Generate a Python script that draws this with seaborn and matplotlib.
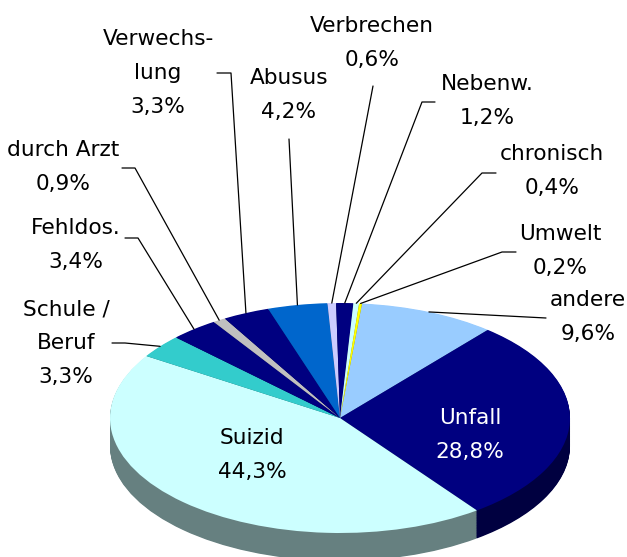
import numpy as np
import matplotlib
matplotlib.use("Agg")
import matplotlib.pyplot as plt
import seaborn as sns

# Slices, clockwise starting from "andere"
names = ["andere", "Unfall", "Suizid", "Schule /\nBeruf", "Fehldos.", "durch Arzt",
         "Verwechs-\nlung", "Abusus", "Verbrechen", "Nebenw.", "chronisch", "Umwelt"]
values = [9.6, 28.8, 44.3, 3.3, 3.4, 0.9, 3.3, 4.2, 0.6, 1.2, 0.4, 0.2]
colors = ["#99CCFF", "#000080", "#CCFFFF", "#33CCCC", "#000080", "#C0C0C0",
          "#000080", "#0066CC", "#CCCCFF", "#000080", "#CCFFFF", "#FFFF00"]

# Label centres in pixels
label_pos = [(588, 317), (470, 435), (252, 455), (66, 343), (76, 245), (63, 167),
             (158, 73), (289, 95), (372, 43), (487, 101), (552, 171), (560, 251)]
# Start of each leader line, None = no leader
leaders = [[(546, 318)], None, None, [(112, 343), (125, 343)],
           [(125, 238), (138, 238)], [(122, 168), (135, 168)],
           [(217, 73), (231, 73)], [(289, 139)], [(373, 86)],
           [(435, 102), (422, 102)], [(496, 173), (482, 173)], [(516, 252), (502, 252)]]

W, H = 627, 557
cx, cy, rx, ry, depth = 340, 418, 230, 115, 28
start = 84.5

sns.set_theme(style="white")
plt.rcParams["font.family"] = ["DejaVu Sans"]

palette = sns.color_palette(colors)
dark = [tuple(c * 0.5 for c in col) for col in palette]
dark[2] = (0.4, 0.5, 0.5)

fig = plt.figure(figsize=(W / 100, H / 100), dpi=100)
ax = fig.add_axes([0, 0, 1, 1])

# side of the disc, stacked pies going up
flat = {"linewidth": 0, "edgecolor": "none"}
for d in np.linspace(depth / ry, 0, 40)[:-1]:
    ax.pie(values, colors=dark, startangle=start, counterclock=False,
           center=(0, -d), radius=1, frame=True, wedgeprops=flat)
ax.pie(values, colors=palette, startangle=start, counterclock=False,
       center=(0, 0), radius=1, frame=True, wedgeprops=flat)

ax.set_aspect("auto")
ax.set_xlim(-cx / rx, (W - cx) / rx)
ax.set_ylim((cy - H) / ry, cy / ry)
ax.axis("off")

# overlay in pixel coordinates for the labels
ov = fig.add_axes([0, 0, 1, 1], facecolor="none")
ov.set_xlim(0, W)
ov.set_ylim(H, 0)
ov.axis("off")

cum = np.cumsum(values)
mids = (cum - np.array(values) / 2) / cum[-1] * 2 * np.pi + np.deg2rad(90 - start)
for i, name in enumerate(names):
    pct = f"{values[i]:.1f}".replace(".", ",") + "%"
    col = "white" if name == "Unfall" else "black"
    ov.text(label_pos[i][0], label_pos[i][1], name + "\n" + pct, ha="center", va="center",
            fontsize=15.6, color=col, linespacing=1.85)
    if leaders[i] is not None:
        rim = (cx + rx * np.sin(mids[i]), cy - ry * np.cos(mids[i]))
        pts = leaders[i] + [rim]
        ov.plot([p[0] for p in pts], [p[1] for p in pts], color="black", lw=0.9)

fig.savefig("out.png", dpi=100)
